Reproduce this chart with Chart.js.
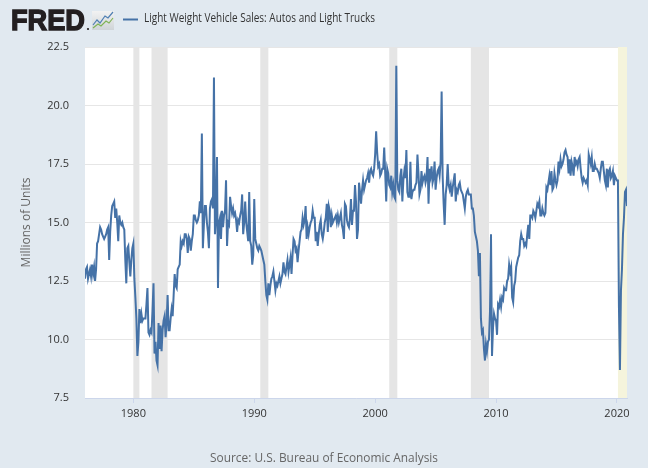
<!DOCTYPE html>
<html>
<head>
<meta charset="utf-8">
<script src="https://cdn.jsdelivr.net/npm/chart.js@4.4.0/dist/chart.umd.min.js"></script>
<style>
  html, body { margin: 0; padding: 0; background: #e1e9f0; }
  canvas { display: block; }
</style>
</head>
<body>
<canvas id="salesChart" width="648" height="468"></canvas>
<script>
// Monthly SAAR, millions of units, starting January 1976
const startYear = 1976;

const sales1970s = [
    12.6, 13.0, 13.1, 12.6, 12.8, 13.0, 12.7, 13.2, 12.8, 13.1, 12.5, 13.0,
    14.1, 14.2, 14.5, 14.8, 14.7, 14.5, 14.4, 14.3, 14.4, 14.5, 14.7, 14.8,
    13.4, 14.6, 15.3, 15.7, 15.8, 15.9, 15.2, 15.6, 15.0, 14.2, 15.3, 15.0,
    14.9, 15.0, 14.8, 14.7, 13.4, 12.4, 13.9, 14.0, 13.3, 12.7, 13.4, 13.9
];
const sales1980s = [
    14.1, 12.6, 11.8, 10.9, 9.3, 9.9, 11.3, 10.7, 11.1, 10.8, 10.9, 10.9,
    10.9, 11.5, 12.2, 10.3, 10.2, 10.4, 10.3, 11.2, 12.4, 9.4, 9.9, 9.1,
    8.9, 10.7, 9.6, 10.6, 9.5, 10.4, 10.8, 11.0, 10.1, 10.7, 11.9, 10.4,
    10.4, 10.9, 11.3, 11.0, 11.9, 12.8, 12.3, 12.2, 13.0, 13.1, 13.2, 14.2,
    14.0, 14.2, 14.1, 14.5, 14.5, 14.3, 13.7, 14.4, 14.3, 13.8, 14.2, 14.5,
    15.3, 15.3, 15.1, 15.0, 15.1, 15.3, 15.9, 15.4, 18.8, 13.9, 14.9, 15.7,
    15.7, 15.0, 14.6, 13.9, 15.6, 15.9, 16.0, 15.6, 21.2, 14.5, 15.2, 17.8,
    12.2, 15.0, 15.2, 14.3, 15.5, 14.8, 15.3, 15.5, 16.8, 14.0, 15.0, 14.9,
    16.1, 15.7, 15.4, 15.6, 15.3, 15.4, 15.1, 14.6, 15.1, 15.0, 15.3, 15.5,
    16.2, 14.5, 15.0, 15.9, 15.0, 14.6, 14.2, 16.3, 14.2, 14.0, 13.2, 13.6
];
const sales1990s = [
    16.0, 14.3, 14.1, 13.9, 13.8, 14.0, 13.9, 13.8, 13.6, 13.4, 13.2, 12.5,
    11.9, 11.7, 12.4, 11.9, 12.3, 12.6, 12.7, 12.9, 12.5, 12.1, 12.4, 12.3,
    12.5, 12.7, 12.4, 12.6, 12.8, 13.3, 12.9, 12.8, 13.1, 13.4, 12.9, 13.2,
    13.5, 12.8, 13.6, 14.3, 14.2, 13.8, 13.9, 13.3, 13.8, 14.2, 14.6, 14.7,
    15.2, 14.9, 15.1, 15.7, 14.3, 14.8, 14.5, 14.8, 15.0, 15.1, 15.5, 15.2,
    15.2, 14.2, 14.6, 14.0, 14.5, 14.9, 15.1, 14.5, 14.3, 14.6, 15.0, 15.2,
    15.8, 14.6, 15.7, 15.5, 14.8, 15.3, 15.0, 15.1, 15.2, 15.3, 15.0, 15.3,
    15.0, 15.2, 15.4, 14.9, 14.7, 14.3, 15.8, 15.7, 15.1, 14.9, 14.8, 15.2,
    16.0, 14.9, 15.5, 15.5, 16.6, 15.9, 14.3, 14.7, 16.7, 16.3, 15.8, 16.4,
    16.8, 16.4, 16.6, 16.8, 16.9, 17.1, 16.7, 17.2, 17.3, 17.1, 17.0, 17.3
];
const sales2000s = [
    17.9, 18.9, 18.0, 17.4, 17.5, 17.0, 17.1, 17.3, 17.3, 18.2, 17.1, 15.9,
    17.3, 17.1, 16.6, 16.5, 17.0, 16.3, 16.6, 16.1, 16.0, 21.7, 16.8, 16.4,
    16.3, 17.0, 17.3, 15.9, 16.8, 17.2, 16.9, 18.1, 16.3, 16.1, 16.1, 17.6,
    16.0, 16.3, 16.4, 16.4, 16.6, 16.7, 17.9, 17.1, 16.2, 16.4, 17.2, 16.7,
    16.9, 17.0, 16.7, 16.9, 17.8, 15.8, 17.3, 17.0, 17.4, 16.7, 16.9, 17.6,
    16.4, 16.9, 17.2, 17.3, 17.0, 17.6, 20.6, 17.0, 15.8, 14.9, 16.2, 16.6,
    17.5, 16.6, 16.4, 16.6, 16.1, 16.5, 16.8, 17.1, 15.9, 16.4, 16.3, 16.6,
    16.7, 16.4, 16.3, 16.2, 15.9, 15.6, 16.1, 16.3, 16.4, 16.2, 16.2, 16.2,
    15.6, 15.6, 15.3, 14.6, 14.4, 14.2, 13.8, 12.7, 13.7, 10.9, 10.3, 10.4,
    9.6, 9.1, 9.8, 9.5, 9.9, 10.0, 11.2, 14.5, 9.3, 10.5, 11.1, 10.9
];
const sales2010s = [
    10.8, 10.2, 11.5, 11.4, 11.7, 11.4, 11.8, 11.7, 12.2, 12.1, 12.1, 12.5,
    12.6, 13.2, 12.9, 13.1, 11.8, 11.6, 12.3, 12.5, 13.1, 13.3, 13.5, 13.6,
    14.2, 14.5, 14.3, 14.3, 14.0, 14.1, 14.0, 14.5, 14.9, 14.3, 15.3, 15.3,
    15.2, 15.5, 15.4, 15.2, 15.5, 15.8, 15.7, 15.9, 15.3, 15.3, 15.6, 15.4,
    15.3, 15.4, 16.5, 16.4, 16.7, 17.0, 16.6, 17.2, 16.4, 16.5, 17.1, 16.8,
    16.6, 16.8, 17.6, 17.3, 17.7, 17.4, 17.5, 17.7, 18.0, 18.1, 17.9, 17.8,
    17.1, 17.7, 17.0, 17.6, 17.4, 17.0, 17.8, 17.5, 17.6, 17.4, 17.7, 17.8,
    17.3, 16.9, 16.7, 16.9, 16.8, 16.7, 16.8, 16.6, 17.9, 17.7, 17.5, 17.8,
    17.2, 17.2, 17.5, 17.3, 17.3, 17.2, 17.1, 16.9, 17.3, 17.6, 17.6, 17.2,
    16.8, 16.6, 17.3, 16.5, 17.2, 17.3, 16.9, 17.0, 17.2, 16.6, 17.0, 16.9
];
const sales2020s = [16.8, 16.8, 11.4, 8.7, 12.1, 13.0, 14.5, 15.2, 16.3, 16.4, 15.7];

// recessions as [start, end] in fractional years
const recessions = [[1980.0, 1980.5], [1981.5, 1982.833], [1990.5, 1991.167],
                    [2001.167, 2001.833], [2007.917, 2009.417]];
const recentRecession = [2020.083, 2020.833];

const yTicks = [7.5, 10.0, 12.5, 15.0, 17.5, 20.0, 22.5];
const xTicks = [1980, 1990, 2000, 2010, 2020];

const allSales = [].concat(sales1970s, sales1980s, sales1990s, sales2000s, sales2010s, sales2020s);
const points = allSales.map((v, i) => ({ x: startYear + i / 12, y: v }));
const lastX = startYear + (allSales.length - 1) / 12;

const FONT = '"Open Sans", "DejaVu Sans", sans-serif';

// background + white plot area
const backdrop = {
    id: 'backdrop',
    beforeDraw(chart) {
        const c = chart.ctx, a = chart.chartArea;
        c.save();
        c.fillStyle = '#e1e9f0';
        c.fillRect(0, 0, chart.width, chart.height);
        c.fillStyle = '#ffffff';
        c.fillRect(a.left, a.top, a.right - a.left, a.bottom - a.top);
        c.restore();
    }
};

// recession shading
const shading = {
    id: 'shading',
    beforeDatasetsDraw(chart) {
        const c = chart.ctx, a = chart.chartArea, xs = chart.scales.x;
        c.save();
        c.fillStyle = '#e5e5e5';
        recessions.forEach(r => {
            const x0 = xs.getPixelForValue(r[0]), x1 = xs.getPixelForValue(r[1]);
            c.fillRect(x0, a.top, x1 - x0, a.bottom - a.top);
        });
        c.fillStyle = '#f5f4dc';
        const x0 = xs.getPixelForValue(recentRecession[0]);
        const x1 = xs.getPixelForValue(recentRecession[1]);
        c.fillRect(x0, a.top, x1 - x0, a.bottom - a.top);
        c.restore();
    }
};

// logo, legend, axis title, source note
const annotations = {
    id: 'annotations',
    afterDraw(chart) {
        const c = chart.ctx, a = chart.chartArea;
        c.save();
        // FRED wordmark
        c.fillStyle = '#231f20';
        c.strokeStyle = '#231f20';
        c.lineWidth = 1.4;
        c.lineJoin = 'miter';
        c.font = 'bold 29px "Liberation Sans", Arial, sans-serif';
        c.textBaseline = 'alphabetic';
        c.textAlign = 'left';
        c.fillText('FRED', 11, 30, 74);
        c.strokeText('FRED', 11, 30, 74);
        c.beginPath();
        c.arc(88, 29, 1.1, 0, Math.PI * 2);
        c.fill();
        // small chart icon
        const g = c.createLinearGradient(0, 11, 0, 30);
        g.addColorStop(0, '#f2f2f2');
        g.addColorStop(1, '#cfd4d8');
        c.fillStyle = g;
        c.fillRect(92, 11, 22, 19);
        c.lineWidth = 1.2;
        c.strokeStyle = '#4f7fb3';
        c.beginPath();
        c.moveTo(93, 25); c.lineTo(97, 20); c.lineTo(100, 23); c.lineTo(105, 16); c.lineTo(108, 18); c.lineTo(113, 12);
        c.stroke();
        c.strokeStyle = '#7fb356';
        c.beginPath();
        c.moveTo(93, 28); c.lineTo(98, 24); c.lineTo(101, 26); c.lineTo(106, 21); c.lineTo(109, 23); c.lineTo(113, 18);
        c.stroke();
        // legend
        c.strokeStyle = '#4572a7';
        c.lineWidth = 2;
        c.beginPath();
        c.moveTo(123, 19.5); c.lineTo(138, 19.5);
        c.stroke();
        c.fillStyle = '#333333';
        c.font = '12px ' + FONT;
        c.textBaseline = 'middle';
        c.fillText('Light Weight Vehicle Sales: Autos and Light Trucks', 144, 19, 231);
        // y axis title
        c.save();
        c.translate(27, (a.top + a.bottom) / 2);
        c.rotate(-Math.PI / 2);
        c.textAlign = 'center';
        c.font = '12px ' + FONT;
        c.fillStyle = '#666666';
        c.fillText('Millions of Units', 0, 0, 110);
        c.restore();
        // source
        c.textAlign = 'center';
        c.font = '13px ' + FONT;
        c.fillStyle = '#666666';
        c.fillText('Source: U.S. Bureau of Economic Analysis', 324, 458, 228);
        c.restore();
    }
};

new Chart(document.getElementById('salesChart').getContext('2d'), {
    type: 'line',
    data: {
        datasets: [{
            label: 'Light Weight Vehicle Sales: Autos and Light Trucks',
            data: points,
            borderColor: '#4572a7',
            borderWidth: 2,
            pointRadius: 0,
            tension: 0,
            fill: false
        }]
    },
    options: {
        responsive: false,
        animation: false,
        devicePixelRatio: 1,
        layout: {
            padding: { top: 47, right: 21, left: 0, bottom: 0 }
        },
        plugins: {
            legend: { display: false },
            tooltip: { enabled: false }
        },
        scales: {
            x: {
                type: 'linear',
                min: startYear,
                max: lastX,
                afterBuildTicks: function(scale) {
                    scale.ticks = xTicks.map(v => ({ value: v }));
                },
                afterFit: function(scale) {
                    scale.height = 70;
                },
                grid: {
                    drawOnChartArea: false,
                    drawTicks: true,
                    tickLength: 5,
                    color: '#ccd6eb'
                },
                border: { color: '#ccd6eb' },
                ticks: {
                    color: '#333333',
                    font: { family: FONT, size: 11 },
                    padding: 4,
                    maxRotation: 0,
                    callback: function(value) {
                        return String(value);
                    }
                }
            },
            y: {
                min: 7.5,
                max: 22.5,
                afterBuildTicks: function(scale) {
                    scale.ticks = yTicks.map(v => ({ value: v }));
                },
                afterFit: function(scale) {
                    scale.width = 85;
                },
                grid: {
                    color: '#e6e6e6',
                    drawTicks: false
                },
                border: { display: false },
                ticks: {
                    color: '#333333',
                    font: { family: FONT, size: 11 },
                    padding: 16,
                    callback: function(value) {
                        return value.toFixed(1);
                    }
                }
            }
        }
    },
    plugins: [backdrop, shading, annotations]
});
</script>
</body>
</html>
